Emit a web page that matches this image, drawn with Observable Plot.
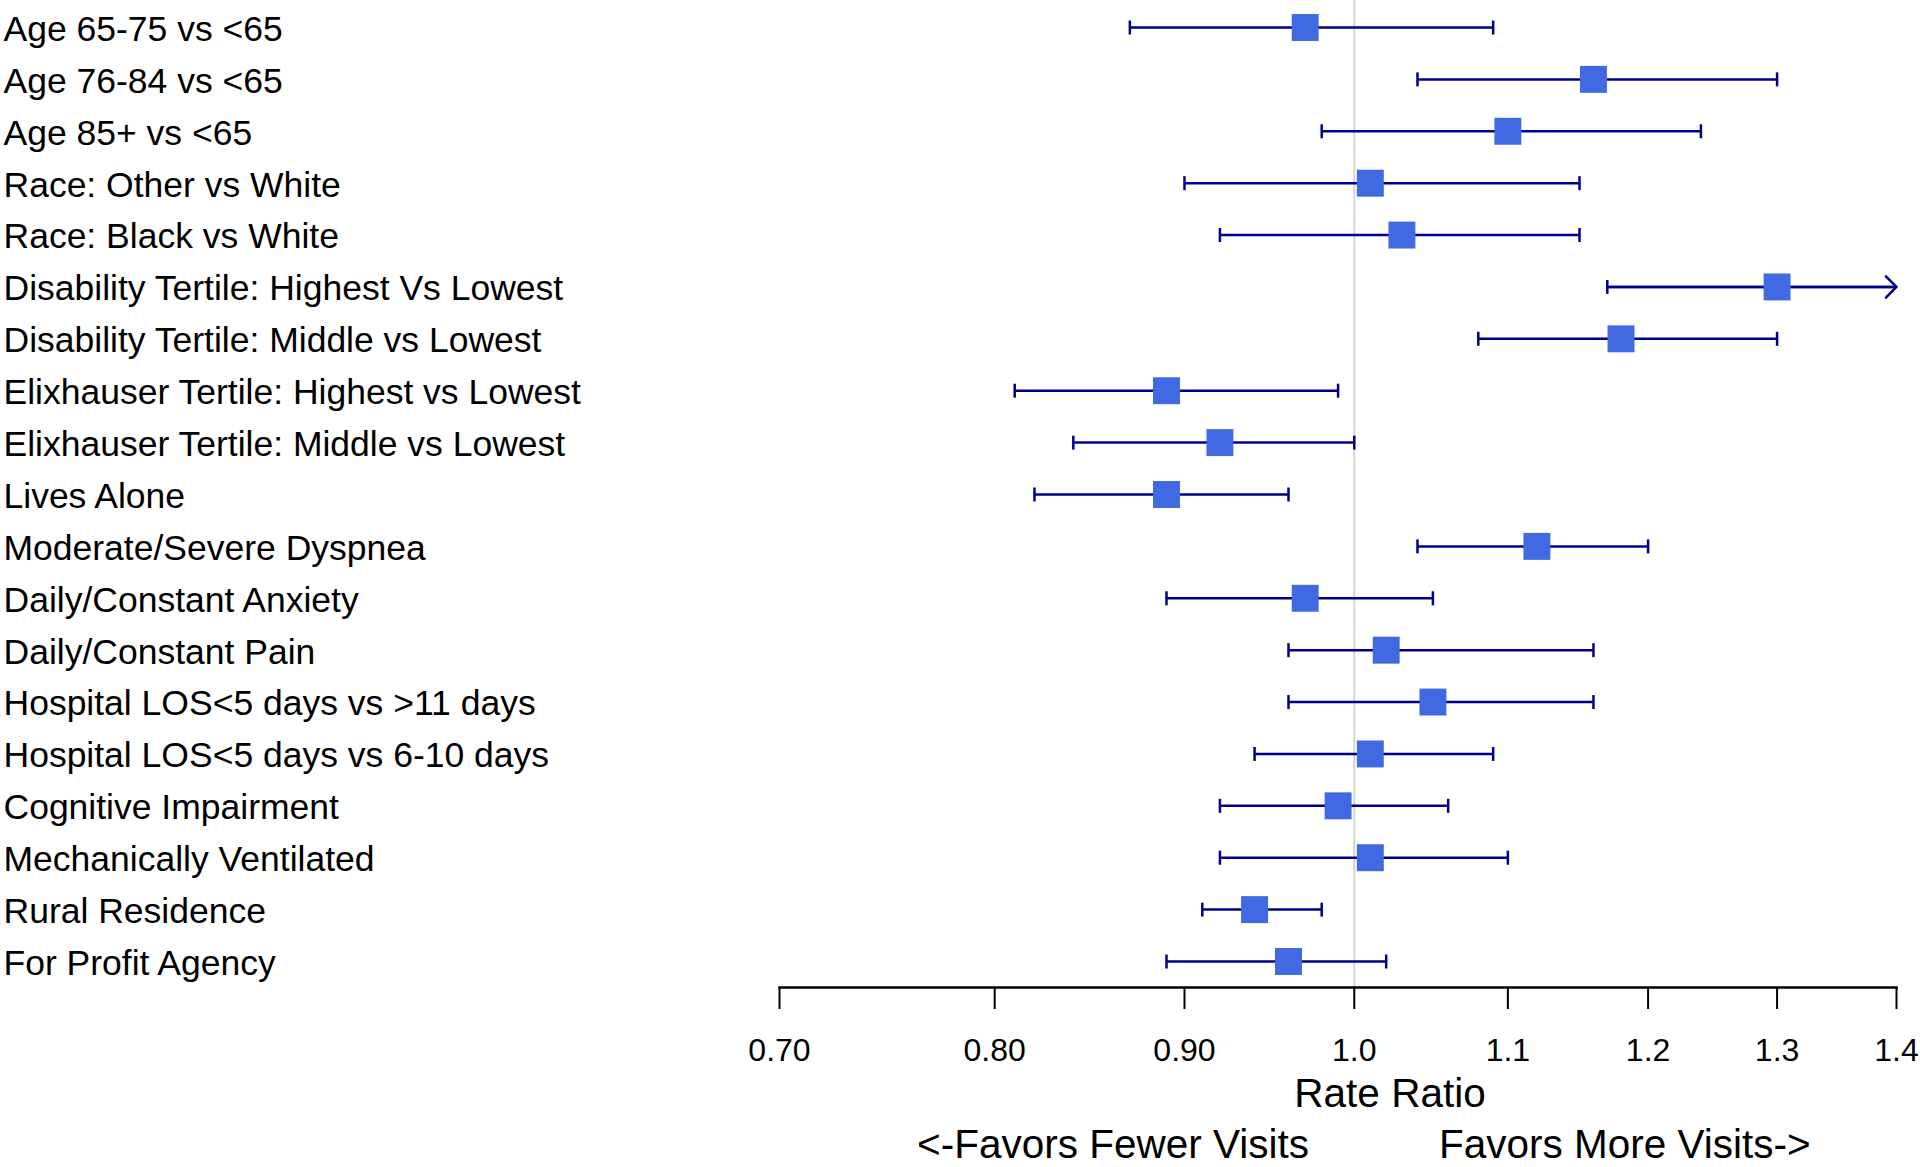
<!DOCTYPE html>
<html><head><meta charset="utf-8">
<script src="https://cdn.jsdelivr.net/npm/d3@7"></script>
<script src="https://cdn.jsdelivr.net/npm/@observablehq/plot@0.6"></script>
<style>html,body{margin:0;padding:0;background:#fff;overflow:hidden}</style>
</head><body><div id="chart"></div>
<script>
const labels = [
  "Age 65-75 vs <65",
  "Age 76-84 vs <65",
  "Age 85+ vs <65",
  "Race: Other vs White",
  "Race: Black vs White",
  "Disability Tertile: Highest Vs Lowest",
  "Disability Tertile: Middle vs Lowest",
  "Elixhauser Tertile: Highest vs Lowest",
  "Elixhauser Tertile: Middle vs Lowest",
  "Lives Alone",
  "Moderate/Severe Dyspnea",
  "Daily/Constant Anxiety",
  "Daily/Constant Pain",
  "Hospital LOS<5 days vs >11 days",
  "Hospital LOS<5 days vs 6-10 days",
  "Cognitive Impairment",
  "Mechanically Ventilated",
  "Rural Residence",
  "For Profit Agency"
];
const estimates = [0.97, 1.16, 1.10, 1.01, 1.03, 1.30, 1.18, 0.89, 0.92, 0.89, 1.12, 0.97, 1.02, 1.05, 1.01, 0.99, 1.01, 0.94, 0.96];
const lower     = [0.87, 1.04, 0.98, 0.90, 0.92, 1.17, 1.08, 0.81, 0.84, 0.82, 1.04, 0.89, 0.96, 0.96, 0.94, 0.92, 0.92, 0.91, 0.89];
const upper     = [1.09, 1.30, 1.24, 1.15, 1.15, 1.45, 1.30, 0.99, 1.00, 0.96, 1.20, 1.05, 1.16, 1.16, 1.09, 1.06, 1.10, 0.98, 1.02];
const xTicks = [0.7, 0.8, 0.9, 1.0, 1.1, 1.2, 1.3, 1.4];
const xTickLabels = ["0.70", "0.80", "0.90", "1.0", "1.1", "1.2", "1.3", "1.4"];
const xDomain = [0.7, 1.4];
const axisTitle = "Rate Ratio";
const leftNote = "<-Favors Fewer Visits";
const rightNote = "Favors More Visits->";

const xMax = xDomain[1];
const rows = labels.map((label, i) => ({label, row: i, est: estimates[i], lo: lower[i], hi: upper[i]}));
const closed = rows.filter(d => d.hi <= xMax);
const open = rows.filter(d => d.hi > xMax);
const tickLabel = new Map(xTicks.map((t, i) => [t, xTickLabels[i]]));
const ciColor = "#00008b";

// vertical bar symbol used for the whisker end caps
const capSymbol = {
  draw(ctx, size) {
    const h = Math.sqrt(size / Math.PI);
    ctx.moveTo(0, -h);
    ctx.lineTo(0, h);
  }
};

const chart = Plot.plot({
  width: 1920, height: 1167,
  marginLeft: 779, marginRight: 24, marginTop: 0, marginBottom: 180,
  style: {fontFamily: "'Liberation Sans', Arial, sans-serif", background: "#fff", color: "#000", overflow: "hidden"},
  x: {type: "log", domain: xDomain, label: null},
  y: {type: "linear", domain: [0, labels.length - 1], range: [27, 961], axis: null},
  marks: [
    Plot.ruleX([1], {stroke: "#d3d3d3", strokeWidth: 2}),
    Plot.frame({anchor: "bottom", stroke: "#000", strokeWidth: 2.5}),
    Plot.axisX(xTicks, {tickFormat: d => tickLabel.get(d), tickSize: 22, tickPadding: 29, fontSize: 32, stroke: "#000", strokeWidth: 2, fill: "#000", label: null}),
    Plot.link(rows, {x1: "lo", x2: d => Math.min(d.hi, xMax), y1: "row", y2: "row", stroke: ciColor, strokeWidth: 2.5}),
    Plot.dot(rows, {x: "lo", y: "row", symbol: capSymbol, r: 7, fill: "none", stroke: ciColor, strokeWidth: 2.5}),
    Plot.dot(closed, {x: "hi", y: "row", symbol: capSymbol, r: 7, fill: "none", stroke: ciColor, strokeWidth: 2.5}),
    Plot.arrow(open, {x1: "lo", x2: () => xMax, y1: "row", y2: "row", headAngle: 90, headLength: 9, stroke: ciColor, strokeWidth: 2.5}),
    Plot.dot(rows, {x: "est", y: "row", symbol: "square", r: 15.2, fill: "#4169e1", stroke: null}),
    Plot.text(rows, {y: "row", text: "label", frameAnchor: "left", textAnchor: "start", dx: -776, dy: 2, fontSize: 35.5, fill: "#000"}),
    Plot.text([axisTitle], {frameAnchor: "bottom", dx: 52, dy: 119, fontSize: 40.5, fill: "#000"}),
    Plot.text([leftNote], {frameAnchor: "bottom", textAnchor: "start", dx: -421, dy: 170, fontSize: 40.5, fill: "#000"}),
    Plot.text([rightNote], {frameAnchor: "bottom", textAnchor: "start", dx: 101, dy: 170, fontSize: 40.5, fill: "#000"})
  ]
});
document.getElementById("chart").appendChild(chart);
</script>
</body></html>
